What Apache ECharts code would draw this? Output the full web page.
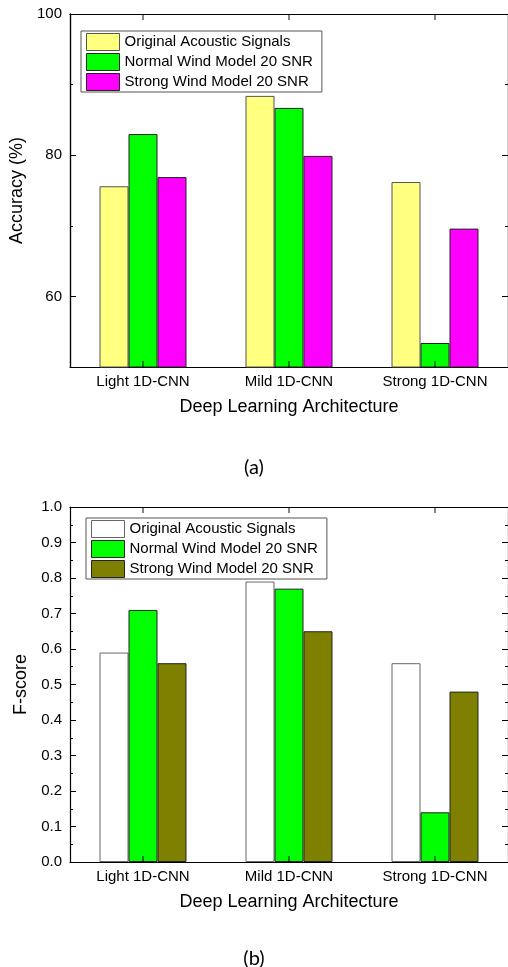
<!DOCTYPE html>
<html>
<head>
<meta charset="utf-8">
<script src="https://cdn.jsdelivr.net/npm/echarts@6/dist/echarts.min.js"></script>
<style>
	html,body{margin:0;padding:0;background:#fff;}
	.echarts-box{position:absolute;left:0;width:508px;}
	#chartA{top:0;height:484px;}
	#chartB{top:484px;height:483px;}
</style>
</head>
<body>
<div class="echarts-box" id="chartA"></div>
<div class="echarts-box" id="chartB"></div>
<script>
// data
var categories = ['Light 1D-CNN', 'Mild 1D-CNN', 'Strong 1D-CNN'];
var seriesNames = ['Original Acoustic Signals', 'Normal Wind Model 20 SNR', 'Strong Wind Model 20 SNR'];

// (a) accuracy, %
var accOriginal = [75.6, 88.4, 76.2];
var accNormal = [83.0, 86.7, 53.4];
var accStrong = [76.9, 79.9, 69.6];
var accMajorTicks = [60, 80, 100];
var accMinorTicks = [70, 90];

// (b) F-score
var fOriginal = [0.59, 0.79, 0.56];
var fNormal = [0.71, 0.77, 0.14];
var fStrong = [0.56, 0.65, 0.48];

var FONT = "Liberation Sans, Arial, sans-serif";

function barSeries(name, data, color, border) {
	return {
		name: name,
		type: 'bar',
		data: data,
		barWidth: 29,
		barGap: '0%',
		itemStyle: {
			color: color,
			borderColor: border,
			borderWidth: 1
		}
	};
}

// inward centre ticks on the bottom/top frame lines (x-axis inside ticks did not show up),
// drawn as thin rect symbols sitting on the axis min / max of every category
function tickSeries(yValue, dir) {
	return {
		name: 'tick',
		type: 'scatter',
		silent: true,
		clip: false,
		z: 10,
		symbol: 'rect',
		symbolSize: [1.2, 6],
		symbolOffset: [0, dir * 3],
		itemStyle: { color: '#000' },
		data: categories.map(function (c) { return [c, yValue]; })
	};
}

function xAxes() {
	return [{
		type: 'category',
		data: categories,
		position: 'bottom',
		axisLine: { onZero: false, lineStyle: { color: '#000', width: 1.2 } },
		axisTick: { show: false },
		axisLabel: { color: '#000', fontSize: 15, fontFamily: FONT, margin: 7 },
		name: 'Deep Learning Architecture',
		nameLocation: 'middle',
		nameGap: 31,
		nameTextStyle: { color: '#000', fontSize: 18, fontFamily: FONT }
	}, {
		// mirrored top frame
		type: 'category',
		data: categories,
		position: 'top',
		axisLine: { onZero: false, lineStyle: { color: '#000', width: 1.2 } },
		axisTick: { show: false },
		axisLabel: { show: false }
	}];
}

// one value axis; left/right, with labels or not
function yAxis(opt) {
	return {
		type: 'value',
		min: opt.min,
		max: opt.max,
		interval: opt.interval,
		position: opt.position,
		z: 5,
		name: opt.name,
		nameLocation: 'middle',
		nameGap: 33,
		nameTextStyle: { color: '#000', fontSize: 18, fontFamily: FONT },
		splitLine: { show: false },
		axisLine: { show: true, onZero: false, lineStyle: { color: '#000', width: 1.2 } },
		axisTick: {
			show: true, inside: true, length: opt.tickLen,
			customValues: opt.tickValues,
			lineStyle: { color: '#000' }
		},
		minorTick: opt.minor ? { show: true, splitNumber: 2, length: 3, lineStyle: { color: '#000' } } : { show: false },
		axisLabel: {
			show: !!opt.labels,
			customValues: opt.labelValues,
			formatter: opt.formatter,
			color: '#000', fontSize: 15, fontFamily: FONT, margin: 8
		}
	};
}

function legend(left, top) {
	return {
		orient: 'vertical',
		left: left,
		top: top,
		data: seriesNames,
		icon: 'rect',
		itemWidth: 33,
		itemHeight: 17,
		itemGap: 2,
		padding: [2, 9, 1, 5],
		borderColor: '#555',
		borderWidth: 1,
		selectedMode: false,
		itemStyle: { borderWidth: 1 },
		textStyle: { color: '#000', fontSize: 15, fontFamily: FONT }
	};
}

function captionTitle(text, top) {
	return {
		text: text,
		left: 'center',
		top: top,
		textStyle: { color: '#000', fontSize: 20, fontWeight: 'normal', fontFamily: "Lato, 'Open Sans', sans-serif" }
	};
}

function optionA() {
	var option = {
		animation: false,
		title: captionTitle('(a)', 453),
		grid: { left: 70, top: 14, width: 439, height: 353, containLabel: false },
		legend: legend(81, 31),
		xAxis: xAxes(),
		yAxis: [
			yAxis({ min: 50, max: 100, position: 'left', name: 'Accuracy (%)', tickLen: 6,
				tickValues: accMajorTicks, labels: true, labelValues: accMajorTicks }),
			yAxis({ min: 50, max: 100, position: 'left', tickLen: 3, tickValues: accMinorTicks }),
			yAxis({ min: 50, max: 100, position: 'right', tickLen: 6, tickValues: accMajorTicks }),
			yAxis({ min: 50, max: 100, position: 'right', tickLen: 3, tickValues: accMinorTicks })
		],
		series: [
			barSeries(seriesNames[0], accOriginal, '#FFFF80', '#555'),
			barSeries(seriesNames[1], accNormal, '#00FF00', '#222'),
			barSeries(seriesNames[2], accStrong, '#FF00FF', '#222'),
			tickSeries(50, -1),
			tickSeries(100, 1)
		]
	};
	return option;
}

function optionB() {
	var fmt = function (v) { return v.toFixed(1); };
	var option = {
		animation: false,
		title: captionTitle('(b)', 460),
		grid: { left: 70, top: 23, width: 439, height: 355, containLabel: false },
		legend: legend(86, 34),
		xAxis: xAxes(),
		yAxis: [
			yAxis({ min: 0, max: 1, interval: 0.1, position: 'left', name: 'F-score', tickLen: 6,
				minor: true, labels: true, formatter: fmt }),
			yAxis({ min: 0, max: 1, interval: 0.1, position: 'right', tickLen: 6, minor: true })
		],
		series: [
			barSeries(seriesNames[0], fOriginal, '#FFFFFF', '#666'),
			barSeries(seriesNames[1], fNormal, '#00FF00', '#222'),
			barSeries(seriesNames[2], fStrong, '#808000', '#222'),
			tickSeries(0, -1),
			tickSeries(1, 1)
		]
	};
	return option;
}

var chartA = echarts.init(document.getElementById('chartA'));
chartA.setOption(optionA(), true);
var chartB = echarts.init(document.getElementById('chartB'));
chartB.setOption(optionB(), true);
</script>
</body>
</html>
